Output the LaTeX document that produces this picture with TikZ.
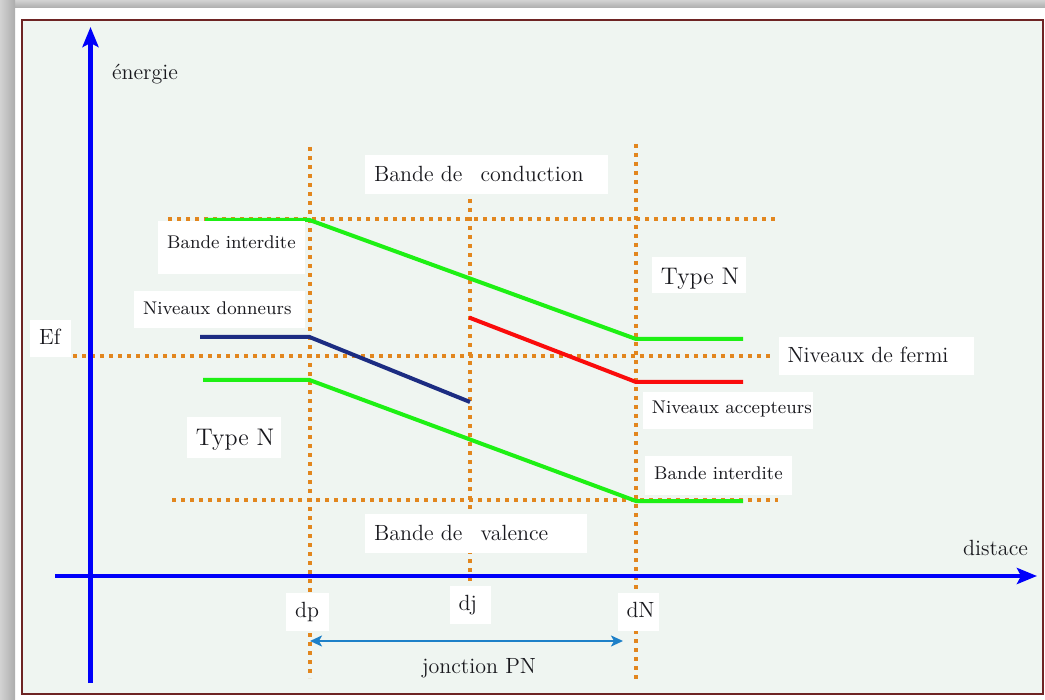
\documentclass[tikz,border=0pt]{standalone}
\usetikzlibrary{arrows.meta}
\definecolor{panel}{RGB}{239,245,241}
\definecolor{framec}{RGB}{110,36,36}
\definecolor{dotc}{RGB}{226,134,30}
\definecolor{gline}{RGB}{30,240,20}
\definecolor{navyline}{RGB}{28,44,130}
\definecolor{rline}{RGB}{250,12,12}
\definecolor{axisc}{RGB}{0,0,250}
\definecolor{jarrow}{RGB}{30,128,200}
\definecolor{txt}{RGB}{25,25,30}
\begin{document}
\begin{tikzpicture}[x=0.5pt,y=-0.5pt,
 dots/.style={dotc, line width=2pt, dash pattern=on 2pt off 2.5pt},
 band/.style={line width=2pt},
 ax/.style={axisc, line width=2.2pt, -{Stealth[length=10pt,width=8pt,inset=2pt]}},
 lab/.style={fill=white, inner xsep=4.4pt, inner ysep=0pt, anchor=base west, text=txt},
 plain/.style={inner sep=0pt, text=txt},
 big/.style={font=\fontsize{11}{13}\selectfont},
 small/.style={font=\fontsize{9.2}{11}\selectfont},
 tn/.style={font=\fontsize{12}{14}\selectfont}]
\useasboundingbox (0,0) rectangle (1045,700);
% outer frame and shadow
\fill[white] (0,0) rectangle (1045,700);
\shade[top color=gray!35, bottom color=gray!65] (0,0) rectangle (1045,8);
\shade[left color=gray!35, right color=gray!65] (0,0) rectangle (15,700);
\filldraw[fill=panel, draw=framec, line width=1.2pt] (22,20) rectangle (1043,694);

% dotted guide lines
\draw[dots] (309.5,147) -- (309.5,678);
\draw[dots] (470,199) -- (470,590);
\draw[dots] (636,144) -- (636,680);
\draw[dots] (168,219) -- (775,219);
\draw[dots] (73,356) -- (773,356);
\draw[dots] (172,500) -- (778,500);

% axes
\coordinate (yb) at (90.5,683);
\coordinate (yt) at (90.5,27);
\coordinate (xl) at (55,576);
\coordinate (xr) at (1037,576);
\draw[ax] (yb) -- (yt);
\draw[ax] (xl) -- (xr);

% bands
\draw[band, gline] (205,220) -- (309.5,220) -- (636,339) -- (743,339);
\draw[band, gline] (203,380) -- (309.5,380) -- (636,501) -- (743,501);
\draw[band, navyline] (200,337) -- (309.5,337) -- (470,402);
\draw[band, rline] (469,317.5) -- (636,382) -- (743,382);

% labels
\node[lab,big,text height=13.35pt,text depth=6.3pt] (cond) at (365,181.7) {\makebox[112.7pt][l]{Bande de\hspace{5.5pt} conduction}};
\node[lab,big,text height=13pt,text depth=6.5pt] (val) at (365,540) {\makebox[102.2pt][l]{Bande de\hspace{5.5pt} valence}};
\node[lab,small,text height=13.6pt,text depth=12.9pt] (bil) at (158,248.3) {\makebox[64.7pt][l]{Bande interdite}};
\node[lab,small,text height=11.8pt,text depth=7pt] (don) at (134,314.3) {\makebox[76.7pt][l]{Niveaux donneurs}};
\node[lab,tn,text height=14.15pt,text depth=6.5pt] (tnl) at (186.7,445) {\makebox[38.2pt][l]{Type N}};
\node[lab,tn,text height=14.15pt,text depth=4.15pt] (tnr) at (651.7,285) {\makebox[38.3pt][l]{Type N}};
\node[lab,big,text height=13pt,text depth=6.15pt] (fermi) at (778.3,362.7) {\makebox[88.7pt][l]{Niveaux de fermi}};
\node[lab,small,text height=11.15pt,text depth=7.65pt] (acc) at (642.7,414) {\makebox[76.2pt][l]{Niveaux accepteurs}};
\node[lab,small,text height=11.65pt,text depth=7.85pt] (bir) at (645,479.3) {\makebox[64.5pt][l]{Bande interdite}};
\node[lab,big,text height=12.5pt,text depth=5.85pt] (ef) at (30,345) {\makebox[11.5pt][l]{Ef}};
\node[lab,big,text height=12.3pt,text depth=6.7pt] (dp) at (286,617.3) {\makebox[12.35pt][l]{dp}};
\node[lab,big,text height=12pt,text depth=7pt] (dj) at (449.3,610) {\makebox[11.9pt][l]{dj}};
\node[lab,big,text height=12.3pt,text depth=6.7pt] (dN) at (617.3,617.3) {\makebox[11.7pt][l]{dN}};

\node[plain,big,anchor=base west] (en) at (111.7,80) {énergie};
\node[plain,big,anchor=base east] (dist) at (1028.3,555) {distace};
\node[plain,big,anchor=base west] (jpn) at (421.7,673.3) {jonction PN};

% junction arrow
\coordinate (jl) at (310,641);
\coordinate (jr) at (623,641);
\draw[jarrow, line width=1pt, {Stealth[length=6pt,width=5.5pt,inset=1.5pt]}-{Stealth[length=6pt,width=5.5pt,inset=1.5pt]}] (jl) -- (jr);
\end{tikzpicture}
\end{document}
